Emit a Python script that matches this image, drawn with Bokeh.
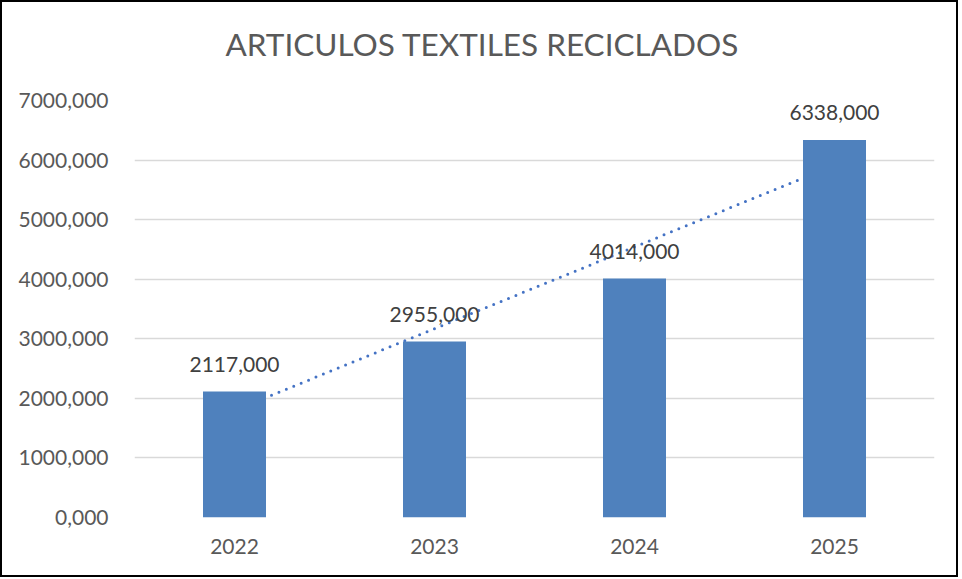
import numpy as np
from bokeh.plotting import figure
from bokeh.models import FactorRange, Range1d, FixedTicker, CustomJSTickFormatter, ColumnDataSource, Title
from bokeh.core.properties import value
from bokeh.embed import file_html
from bokeh.resources import INLINE

years = ["2022", "2023", "2024", "2025"]
values = [2117, 2955, 4014, 6338]
labels = ["2117,000", "2955,000", "4014,000", "6338,000"]
y_ticks = [0, 1000, 2000, 3000, 4000, 5000, 6000, 7000]
title_text = "ARTICULOS TEXTILES RECICLADOS"

FONT = "Lato"
W, H = 958, 577
FL, FT, FW, FH = 132, 98, 800, 417
FR = W - FL - FW
FB = H - FT - FH
YMAX = 7000

p = figure(width=W, height=H, x_range=FactorRange(*years, range_padding=0), title=None,
           y_range=Range1d(0, YMAX), output_backend="svg", toolbar_location=None,
           min_border_left=FL, min_border_right=FR, min_border_top=FT, min_border_bottom=FB)
p.outline_line_color = None
p.background_fill_color = "white"
p.border_fill_color = "white"
p.styles = {"border": "2px solid #000000", "box-sizing": "border-box"}

# spacer between frame and title, then the title (centered over whole chart, ~512px wide)
p.add_layout(Title(text=" ", text_font_size="1px", standoff=34), "above")
p.add_layout(Title(text=title_text, align="left", offset=479 - FL - 256, vertical_align="middle",
                   standoff=0, text_font=FONT, text_font_size="31.5px", text_font_style="normal",
                   text_color="#595959"), "above")

# trendline (linear fit) behind bars
xi = np.arange(1, len(values) + 1)
slope, intercept = np.polyfit(xi, values, 1)
trend = slope * xi + intercept
p.line(x=years, y=trend, line_color="#4472C4", line_width=3, line_dash="0 8", line_cap="round")

src = ColumnDataSource(dict(x=years, top=values, lab=labels))
p.vbar(x="x", top="top", width=0.315, source=src, fill_color="#4F81BD", line_color=None)
p.text(x="x", y="top", text="lab", source=src, text_align="center", text_baseline="alphabetic",
       y_offset=-27, text_font=value(FONT), text_font_size="21px", text_color="#404040")

p.xgrid.grid_line_color = None
p.ygrid.grid_line_color = "#D9D9D9"
p.ygrid.grid_line_width = 1.5
p.yaxis.ticker = FixedTicker(ticks=y_ticks)
p.yaxis.formatter = CustomJSTickFormatter(code="return tick.toFixed(0) + ',000';")
for ax in (p.xaxis[0], p.yaxis[0]):
    ax.axis_line_color = None
    ax.major_tick_line_color = None
    ax.minor_tick_line_color = None
    ax.major_label_text_font = FONT
    ax.major_label_text_font_size = "21px"
    ax.major_label_text_color = "#595959"
p.yaxis.major_label_standoff = 20
p.xaxis.major_label_standoff = 15

open("out.html", "w").write(file_html(p, INLINE))
